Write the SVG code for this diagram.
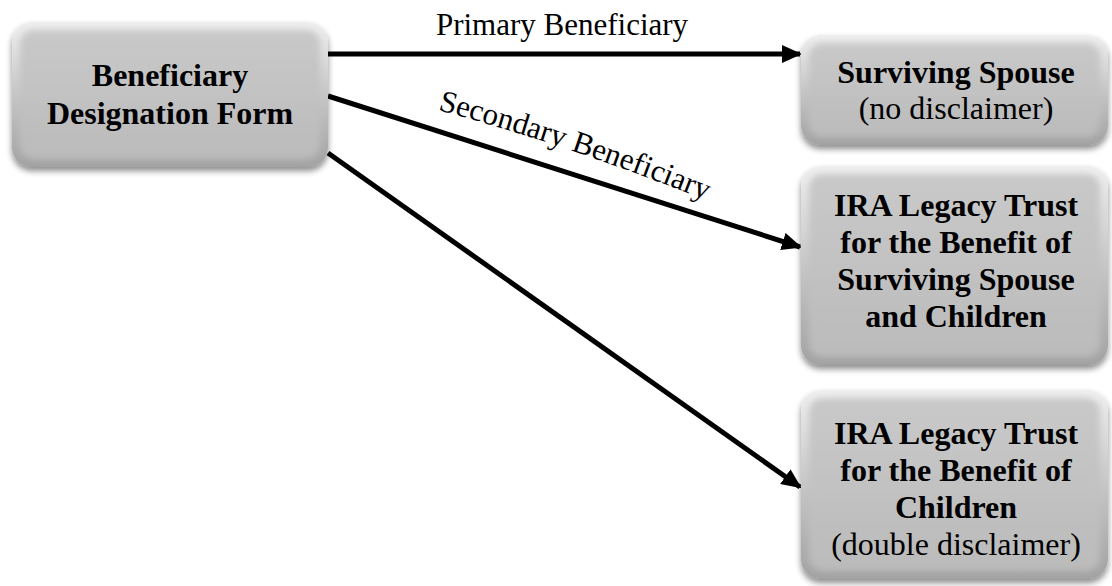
<svg xmlns="http://www.w3.org/2000/svg" width="1112" height="586" viewBox="0 0 1112 586">
<style>
.b{font-family:"Liberation Serif","Times New Roman",serif;font-weight:bold;font-size:32px;text-anchor:middle;fill:#000}
.r{font-family:"Liberation Serif","Times New Roman",serif;font-weight:normal;font-size:32px;text-anchor:middle;fill:#000}
.lbl{font-family:"Liberation Serif","Times New Roman",serif;font-size:31px;fill:#000}
.edge{stroke:#000;stroke-width:5;fill:none;marker-end:url(#ah)}
.outer{fill:url(#gOuter);filter:url(#shadow)}
.inner{fill:url(#gInner);filter:url(#soft)}
</style>
<defs>
<linearGradient id="gOuter" x1="0" y1="0" x2="0" y2="1">
<stop offset="0" stop-color="#efefef"/>
<stop offset="0.5" stop-color="#c6c6c6"/>
<stop offset="1" stop-color="#a2a2a2"/>
</linearGradient>
<linearGradient id="gInner" x1="0" y1="0" x2="0" y2="1">
<stop offset="0" stop-color="#c9c9c9"/>
<stop offset="1" stop-color="#bbbbbb"/>
</linearGradient>
<filter id="shadow" x="-10%" y="-10%" width="120%" height="130%">
<feGaussianBlur in="SourceAlpha" stdDeviation="3"/>
<feOffset dy="4" result="o"/>
<feComponentTransfer><feFuncA type="linear" slope="0.45"/></feComponentTransfer>
<feMerge><feMergeNode/><feMergeNode in="SourceGraphic"/></feMerge>
</filter>
<filter id="soft" x="-10%" y="-10%" width="120%" height="120%">
<feGaussianBlur stdDeviation="3"/>
</filter>
<marker id="ah" markerUnits="userSpaceOnUse" markerWidth="20" markerHeight="18" viewBox="0 0 20 18" refX="18" refY="9" orient="auto">
<path d="M0,0 L20,9 L0,18 Z" fill="#000"/>
</marker>
<path id="secPath" d="M438,110 Q580,148 740,214"/>
</defs>

<g id="connectors">
<line class="edge" x1="328" y1="54" x2="800" y2="54"/>
<line class="edge" x1="328" y1="96" x2="800" y2="247"/>
<line class="edge" x1="328" y1="153" x2="800" y2="487"/>
<text class="lbl" x="562" y="35" text-anchor="middle">Primary Beneficiary</text>
<text class="lbl"><textPath href="#secPath">Secondary Beneficiary</textPath></text>
</g>

<g id="node-source">
<rect class="outer" x="12" y="22" width="316" height="145" rx="20"/>
<rect class="inner" x="20" y="30" width="300" height="129" rx="14"/>
<text class="b" x="170" y="86">Beneficiary</text>
<text class="b" x="170" y="124">Designation Form</text>
</g>

<g id="node-spouse">
<rect class="outer" x="801" y="35" width="307" height="110" rx="20"/>
<rect class="inner" x="809" y="43" width="291" height="94" rx="14"/>
<text class="b" x="956" y="83">Surviving Spouse</text>
<text class="r" x="956" y="119">(no disclaimer)</text>
</g>

<g id="node-trust-spouse-children">
<rect class="outer" x="801" y="166" width="307" height="199" rx="20"/>
<rect class="inner" x="809" y="174" width="291" height="183" rx="14"/>
<text class="b" x="956" y="216">IRA Legacy Trust</text>
<text class="b" x="956" y="253">for the Benefit of</text>
<text class="b" x="956" y="290">Surviving Spouse</text>
<text class="b" x="956" y="327">and Children</text>
</g>

<g id="node-trust-children">
<rect class="outer" x="801" y="390" width="307" height="189" rx="20"/>
<rect class="inner" x="809" y="398" width="291" height="173" rx="14"/>
<text class="b" x="956" y="444">IRA Legacy Trust</text>
<text class="b" x="956" y="481">for the Benefit of</text>
<text class="b" x="956" y="518">Children</text>
<text class="r" x="956" y="555">(double disclaimer)</text>
</g>
</svg>
